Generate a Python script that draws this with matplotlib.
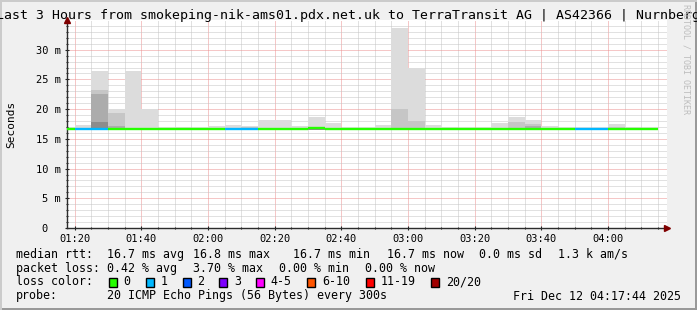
import numpy as np
import matplotlib
matplotlib.use("Agg")
import matplotlib.pyplot as plt
from matplotlib.patches import Rectangle

# ---------------- data ----------------
bin_starts = ["01:15", "01:20", "01:25", "01:30", "01:35", "01:40", "01:45", "01:50",
              "01:55", "02:00", "02:05", "02:10", "02:15", "02:20", "02:25", "02:30",
              "02:35", "02:40", "02:45", "02:50", "02:55", "03:00", "03:05", "03:10",
              "03:15", "03:20", "03:25", "03:30", "03:35", "03:40", "03:45", "03:50",
              "03:55", "04:00", "04:05", "04:10"]
# median rtt (ms)
median_ms = [16.7, 16.7, 16.7, 16.7, 16.7, 16.7, 16.7, 16.7,
             16.7, 16.7, 16.7, 16.7, 16.7, 16.7, 16.7, 16.85,
             16.7, 16.7, 16.7, 16.7, 16.7, 16.7, 16.7, 16.7,
             16.7, 16.7, 16.7, 16.7, 16.7, 16.7, 16.7, 16.7,
             16.7, 16.7, 16.7, 16.7]
# lost pings out of 20
loss_count = [0, 1, 1, 0, 0, 0, 0, 0,
              0, 0, 1, 1, 0, 0, 0, 0,
              0, 0, 0, 0, 0, 0, 0, 0,
              0, 0, 0, 0, 0, 0, 0, 1,
              1, 0, 0, 0]
# smoke layers (upper edge in ms), lightest/outermost first
smoke_l1 = [16.7, 17.3, 26.4, 20.1, 26.4, 20.1, 16.8, 17.0,
            16.9, 17.1, 17.3, 17.2, 18.2, 18.1, 17.2, 18.7,
            17.6, 16.9, 16.8, 17.3, 33.7, 27.0, 17.3, 17.0,
            16.9, 16.9, 17.7, 18.7, 18.2, 17.2, 16.9, 16.9,
            16.9, 17.5, 17.0, 16.8]
smoke_l2 = [16.7, 16.9, 23.3, 19.4, 16.7, 16.7, 16.7, 16.7,
            16.7, 16.7, 16.9, 17.0, 16.7, 16.7, 16.7, 16.7,
            16.7, 16.7, 16.7, 16.7, 20.0, 18.0, 16.7, 16.7,
            16.7, 16.7, 16.7, 17.8, 17.5, 16.7, 16.7, 16.7,
            16.7, 17.0, 16.7, 16.7]
smoke_l3 = [16.7, 16.7, 22.6, 17.2, 16.7, 16.7, 16.7, 16.7,
            16.7, 16.7, 16.7, 16.7, 16.7, 16.7, 16.7, 16.7,
            16.7, 16.7, 16.7, 16.7, 16.7, 16.7, 16.7, 16.7,
            16.7, 16.7, 16.7, 16.7, 17.1, 16.7, 16.7, 16.7,
            16.7, 16.7, 16.7, 16.7]
smoke_l4 = [16.7, 16.7, 17.8, 16.7, 16.7, 16.7, 16.7, 16.7,
            16.7, 16.7, 16.7, 16.7, 16.7, 16.7, 16.7, 16.7,
            16.7, 16.7, 16.7, 16.7, 16.7, 16.7, 16.7, 16.7,
            16.7, 16.7, 16.7, 16.7, 16.7, 16.7, 16.7, 16.7,
            16.7, 16.7, 16.7, 16.7]
smoke_floor = 16.5

x_tick_labels = ["01:20", "01:40", "02:00", "02:20", "02:40", "03:00", "03:20", "03:40", "04:00"]
y_tick_values = [0, 5, 10, 15, 20, 25, 30]
y_tick_labels = ["0  ", "5 m", "10 m", "15 m", "20 m", "25 m", "30 m"]

loss_legend = ["0", "1", "2", "3", "4-5", "6-10", "11-19", "20/20"]
loss_colors = ["#26ff00", "#00b8ff", "#0059ff", "#7e00ff", "#ff00ff", "#ff5500", "#ff0000", "#a10000"]

title = "Last 3 Hours from smokeping-nik-ams01.pdx.net.uk to TerraTransit AG | AS42366 | Nurnberg"

# ---------------- helpers ----------------
def to_min(s):
    h, m = s.split(":")
    return int(h) * 60 + int(m)

def loss_color(n):
    if n <= 0: return loss_colors[0]
    if n == 1: return loss_colors[1]
    if n == 2: return loss_colors[2]
    if n == 3: return loss_colors[3]
    if n <= 5: return loss_colors[4]
    if n <= 10: return loss_colors[5]
    if n <= 19: return loss_colors[6]
    return loss_colors[7]

W, H = 697, 310
MONO = "DejaVu Sans Mono"
plt.rcParams["font.family"] = MONO

fig = plt.figure(figsize=(W / 100, H / 100), dpi=100, facecolor="#f0f0f0")

def fx(x):
    return x / W

def fy(y):
    return 1 - y / H

# 3D frame
fig.add_artist(Rectangle((0, 0), 1, 2 / H, transform=fig.transFigure, color="#999999", lw=0))
fig.add_artist(Rectangle((1 - 2 / W, 0), 2 / W, 1, transform=fig.transFigure, color="#999999", lw=0))
fig.add_artist(Rectangle((0, 1 - 2 / H), 1, 2 / H, transform=fig.transFigure, color="#cbcbcb", lw=0))
fig.add_artist(Rectangle((0, 0), 2 / W, 1, transform=fig.transFigure, color="#cbcbcb", lw=0))

ax = fig.add_axes([fx(67), fy(228), fx(600), 208 / H])
ax.set_facecolor("white")

xs = np.array([to_min(s) for s in bin_starts], dtype=float)
t_end = to_min("04:17") + 44 / 60
t_start = t_end - 180
ax.set_xlim(t_start, t_end)
ax.set_ylim(0, 35)

# smoke
layers = [(smoke_l1, "#dcdcdc"), (smoke_l2, "#c6c6c6"), (smoke_l3, "#acacac"), (smoke_l4, "#8c8c8c")]
for vals, col in layers:
    v = np.array(vals)
    ax.bar(xs, v - smoke_floor, width=5, bottom=smoke_floor, align="edge",
           color=col, lw=0, zorder=2)

# median line coloured by loss
cols = [loss_color(n) for n in loss_count]
ax.hlines(median_ms, xs, xs + 5, colors=cols, lw=1.7, zorder=4)

# grid
major_x = [to_min(s) for s in x_tick_labels]
ax.set_xticks(major_x)
ax.set_xticklabels(x_tick_labels)
ax.set_xticks(np.arange(to_min("01:20"), t_end, 5), minor=True)
ax.set_yticks(y_tick_values)
ax.set_yticklabels(y_tick_labels)
ax.set_yticks(np.arange(0, 35, 1), minor=True)
ax.grid(which="minor", color="#c4c4c4", ls=(0, (1, 1)), lw=0.72, zorder=1)
ax.grid(which="major", color="#ec9090", ls=(0, (1, 1)), lw=0.72, zorder=1)
ax.set_axisbelow(True)

ax.tick_params(which="both", labelsize=7.5, colors="#222222", labelcolor="black")
ax.tick_params(which="major", length=3, width=0.8, direction="inout", pad=3)
ax.tick_params(which="minor", length=2, width=0.8, direction="inout")
for lbl in ax.get_yticklabels():
    lbl.set_fontfamily(MONO)
for lbl in ax.get_xticklabels():
    lbl.set_fontfamily(MONO)

for sp in ["top", "right"]:
    ax.spines[sp].set_visible(False)
for sp in ["left", "bottom"]:
    ax.spines[sp].set_color("#2c2c2c")
    ax.spines[sp].set_linewidth(1.0)

# arrows
ax.plot([0], [1.0], marker="^", color="#7f0000", ms=5, transform=ax.transAxes, clip_on=False, zorder=6)
ax.plot([1.0], [0], marker=">", color="#7f0000", ms=5, transform=ax.transAxes, clip_on=False, zorder=6)

ax.set_ylabel("Seconds", fontsize=8, family=MONO, labelpad=14)

# title
fig.text(fx(348), fy(15), title, ha="center", va="center", fontsize=9.5, family=MONO)
# watermark
fig.text(fx(686), fy(4), "RRDTOOL / TOBI OETIKER", rotation=270, ha="center", va="top",
         fontsize=6, color="#bdbdbd", family=MONO)

LS = 8.4
def t(x, y, s, **kw):
    fig.text(fx(x), fy(y), s, ha="left", va="center", fontsize=LS, family=MONO, **kw)

# legend line 1
t(16, 254.3, "median rtt:")
t(107.3, 254.3, "16.7 ms avg")
t(193.3, 254.3, "16.8 ms max")
t(293.3, 254.3, "16.7 ms min")
t(386.7, 254.3, "16.7 ms now")
t(479.3, 254.3, "0.0 ms sd")
t(558.3, 254.3, "1.3 k am/s")
# line 2
t(16, 268.3, "packet loss:")
t(107.3, 268.3, "0.42 % avg")
t(193.3, 268.3, "3.70 % max")
t(279.3, 268.3, "0.00 % min")
t(365.0, 268.3, "0.00 % now")
# line 3
t(16, 281.7, "loss color:")
box_x = [108.7, 145.7, 182.7, 219.3, 256.0, 307.3, 365.7, 430.7]
lab_x = [123.3, 160.7, 197.3, 234.0, 270.7, 322.3, 380.7, 445.7]
for bx, lx, lab, col in zip(box_x, lab_x, loss_legend, loss_colors):
    fig.add_artist(Rectangle((fx(bx), fy(286.5)), 8 / W, 8.5 / H, transform=fig.transFigure,
                             facecolor=col, edgecolor="black", lw=1.0))
    t(lx, 281.7, lab)
# line 4
t(16, 296, "probe:")
t(107.3, 296, "20 ICMP Echo Pings (56 Bytes) every 300s")
fig.text(fx(681), fy(296), "Fri Dec 12 04:17:44 2025", ha="right", va="center", fontsize=LS, family=MONO)

fig.savefig("out.png", dpi=100, facecolor=fig.get_facecolor())
